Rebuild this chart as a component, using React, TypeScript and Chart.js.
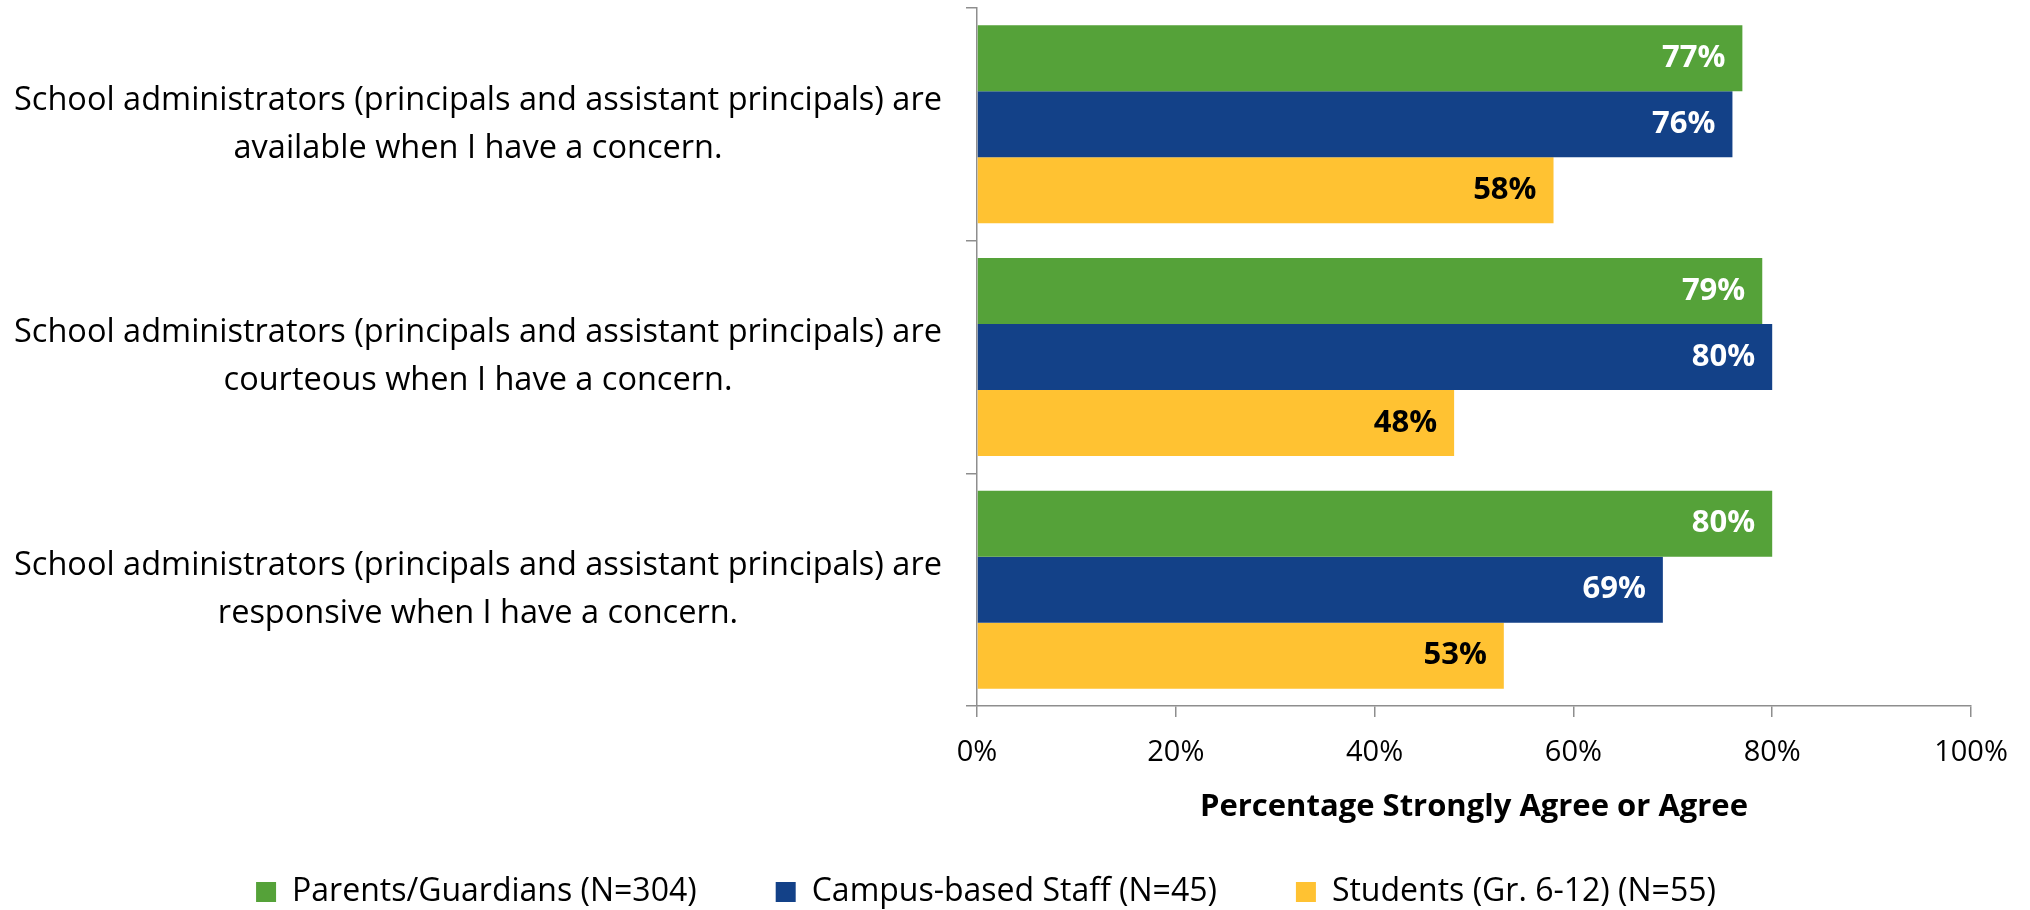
import { useEffect, useRef } from "react";
import { Chart, registerables } from "chart.js";

Chart.register(...registerables);

const categories: string[][] = [
  ["School administrators (principals and assistant principals) are", "available when I have a concern."],
  ["School administrators (principals and assistant principals) are", "courteous when I have a concern."],
  ["School administrators (principals and assistant principals) are", "responsive when I have a concern."],
];
const seriesNames = ["Parents/Guardians (N=304)", "Campus-based Staff (N=45)", "Students (Gr. 6-12) (N=55)"];
const parentsValues = [77, 79, 80];
const staffValues = [76, 80, 69];
const studentValues = [58, 48, 53];
const xTickValues = [0, 20, 40, 60, 80, 100];
const xTitle = "Percentage Strongly Agree or Agree";

const seriesColors = ["#55A239", "#134188", "#FFC232"];
const labelColors = ["#FFFFFF", "#FFFFFF", "#000000"];
const FONT = "'Open Sans'";
const AXIS_GRAY = "#8E8E8E";

const PAD_LEFT = 1;
const PAD_RIGHT = 59;
const PLOT_LEFT = 977;
const LABEL_CENTER = 478;
const TICK_LEN = 11;
const CAT_FONT_SIZE = 32.5;

function measureWidest(): number {
  const c = document.createElement("canvas");
  const ctx = c.getContext("2d")!;
  ctx.font = `${CAT_FONT_SIZE}px ${FONT}`;
  let w = 0;
  categories.forEach((lines) => lines.forEach((l) => (w = Math.max(w, ctx.measureText(l).width))));
  return w;
}

const valueLabelPlugin = {
  id: "valueLabels",
  afterLayout(chart: any) {
    // let the category labels use the whole left margin
    chart.scales.y.left = 0;
  },
  afterDatasetsDraw(chart: any) {
    const ctx = chart.ctx;
    chart.data.datasets.forEach((ds: any, i: number) => {
      const meta = chart.getDatasetMeta(i);
      meta.data.forEach((bar: any, j: number) => {
        ctx.save();
        ctx.font = `bold 31px ${FONT}`;
        ctx.fillStyle = labelColors[i];
        ctx.textAlign = "right";
        ctx.textBaseline = "middle";
        ctx.fillText(`${ds.data[j]}%`, bar.x - 17, bar.y);
        ctx.restore();
      });
    });
  },
};

export default function App() {
  const ref = useRef<HTMLCanvasElement | null>(null);

  useEffect(() => {
    if (!ref.current) return;
    const widest = measureWidest();
    const yPad = PLOT_LEFT - TICK_LEN - LABEL_CENTER - widest / 2;
    const chart = new Chart(ref.current, {
      type: "bar",
      data: {
        labels: categories,
        datasets: [parentsValues, staffValues, studentValues].map((d, i) => ({
          label: seriesNames[i],
          data: d,
          backgroundColor: seriesColors[i],
          borderWidth: 0,
          categoryPercentage: 0.851,
          barPercentage: 1,
        })),
      },
      options: {
        indexAxis: "y",
        responsive: false,
        animation: false,
        layout: { padding: { left: PAD_LEFT, right: PAD_RIGHT, top: 8, bottom: -8 } },
        plugins: {
          tooltip: { enabled: false },
          legend: {
            position: "bottom",
            labels: {
              boxWidth: 20,
              boxHeight: 20,
              padding: 79,
              color: "#000",
              font: { family: FONT, size: 32 },
            },
          },
        },
        scales: {
          y: {
            grid: { drawOnChartArea: false, tickLength: TICK_LEN, color: AXIS_GRAY, lineWidth: 1.5 },
            border: { color: AXIS_GRAY, width: 1.5 },
            ticks: {
              crossAlign: "center",
              padding: yPad,
              color: "#000",
              font: { family: FONT, size: CAT_FONT_SIZE, lineHeight: 1.477 },
            },
            afterFit(scale: any) {
              scale.width = PLOT_LEFT - PAD_LEFT;
              scale.paddingTop = 0;
              scale.paddingBottom = 0;
            },
          },
          x: {
            min: 0,
            max: 100,
            afterBuildTicks(scale: any) {
              scale.ticks = xTickValues.map((v) => ({ value: v }));
            },
            grid: { drawOnChartArea: false, tickLength: TICK_LEN, color: AXIS_GRAY, lineWidth: 1.5 },
            border: { color: AXIS_GRAY, width: 1.5 },
            ticks: {
              padding: 18,
              color: "#000",
              font: { family: FONT, size: 29 },
              callback: (v: any) => `${v}%`,
            },
            title: {
              display: true,
              text: xTitle,
              color: "#000",
              font: { family: FONT, size: 31, weight: "bold" },
              padding: { top: 0, bottom: -28.6 },
            },
            afterFit(scale: any) {
              scale.height = 91;
              scale.paddingLeft = 0;
              scale.paddingRight = 0;
            },
          },
        },
      },
      plugins: [valueLabelPlugin],
    } as any);
    return () => chart.destroy();
  }, []);

  return (
    <div style={{ position: "absolute", left: 0, top: 0, width: 2030, height: 910, background: "#fff" }}>
      <canvas ref={ref} width={2030} height={910} />
    </div>
  );
}
